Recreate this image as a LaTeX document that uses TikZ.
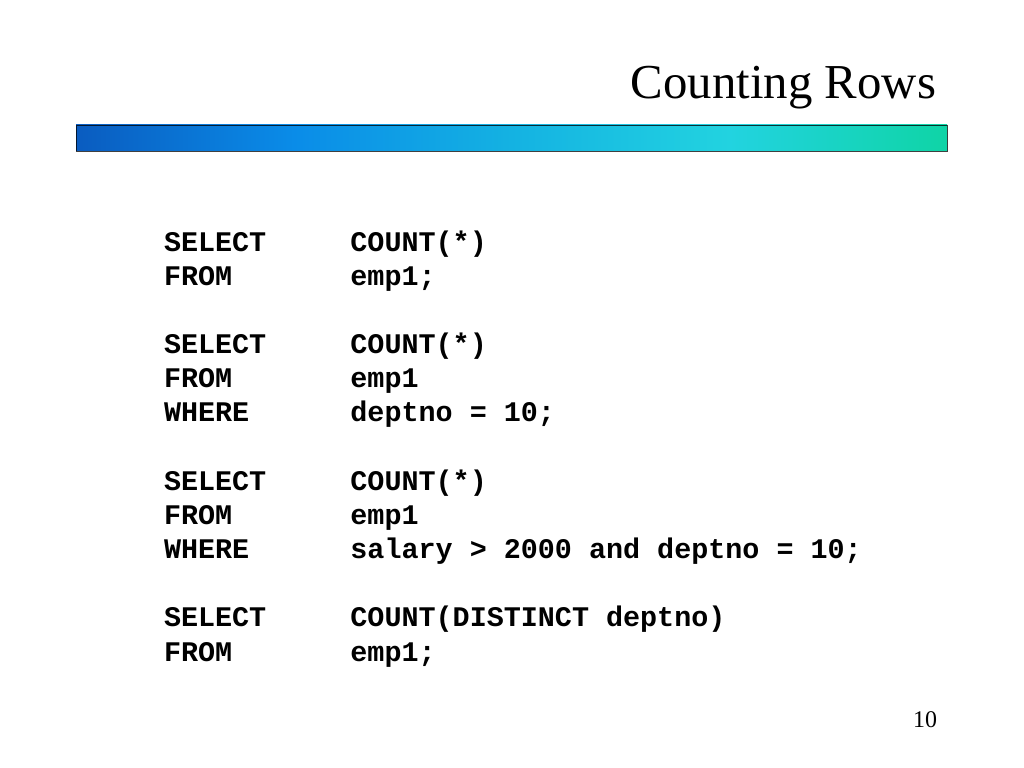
\documentclass[tikz,border=0pt]{standalone}
\usepackage{fontspec}
\setmainfont{Liberation Serif}
\newfontfamily\codefont{Liberation Mono}
\usetikzlibrary{positioning}

\definecolor{barA}{HTML}{0A5CC0}
\definecolor{barB}{HTML}{0A8CE8}
\definecolor{barC}{HTML}{14B2E2}
\definecolor{barD}{HTML}{22D3E0}
\definecolor{barE}{HTML}{0FD4A6}
\pgfdeclarehorizontalshading{barshade}{100bp}{color(0bp)=(barA); color(25bp)=(barA); color(37.5bp)=(barB); color(50bp)=(barC); color(62.5bp)=(barD); color(75bp)=(barE); color(100bp)=(barE)}

\begin{document}
\begin{tikzpicture}[
		x=0.025cm, y=-0.025cm,
		every node/.style={inner sep=0pt, outer sep=0pt},
		title/.style={font=\fontsize{34.7pt}{40pt}\selectfont, anchor=base east},
		code/.style={font=\codefont\bfseries\fontsize{20.2pt}{24pt}\selectfont, anchor=base west},
		pagenum/.style={font=\fontsize{17pt}{20pt}\selectfont, anchor=base east}
		]
		
		% Page
		\fill[white] (0,0) rectangle (1024,768);
		\useasboundingbox (0,0) rectangle (1024,768);
		
		% Heading
		\node[title] (title) at (936,99) {Counting Rows};
		\path[shading=barshade, draw=black, draw opacity=0.75, line width=0.6pt] (76,125) rectangle (947,151);
		
		% First query
		\node[code] (sel1) at (164,251) {SELECT};
		\node[code] (cnt1) at ([xshift=4.66cm]sel1.base west) {COUNT(*)};
		\node[code] (frm1) at ([yshift=-0.854cm]sel1.base west) {FROM};
		\node[code] (tbl1) at ([xshift=4.66cm]frm1.base west) {emp1;};
		
		% Second query
		\node[code] (sel2) at ([yshift=-1.708cm]frm1.base west) {SELECT};
		\node[code] (cnt2) at ([xshift=4.66cm]sel2.base west) {COUNT(*)};
		\node[code] (frm2) at ([yshift=-0.854cm]sel2.base west) {FROM};
		\node[code] (tbl2) at ([xshift=4.66cm]frm2.base west) {emp1};
		\node[code] (whr2) at ([yshift=-0.854cm]frm2.base west) {WHERE};
		\node[code] (cnd2) at ([xshift=4.66cm]whr2.base west) {deptno = 10;};
		
		% Third query
		\node[code] (sel3) at ([yshift=-1.708cm]whr2.base west) {SELECT};
		\node[code] (cnt3) at ([xshift=4.66cm]sel3.base west) {COUNT(*)};
		\node[code] (frm3) at ([yshift=-0.854cm]sel3.base west) {FROM};
		\node[code] (tbl3) at ([xshift=4.66cm]frm3.base west) {emp1};
		\node[code] (whr3) at ([yshift=-0.854cm]frm3.base west) {WHERE};
		\node[code] (cnd3) at ([xshift=4.66cm]whr3.base west) {salary > 2000 and deptno = 10;};
		
		% Fourth query
		\node[code] (sel4) at ([yshift=-1.708cm]whr3.base west) {SELECT};
		\node[code] (cnt4) at ([xshift=4.66cm]sel4.base west) {COUNT(DISTINCT deptno)};
		\node[code] (frm4) at ([yshift=-0.854cm]sel4.base west) {FROM};
		\node[code] (tbl4) at ([xshift=4.66cm]frm4.base west) {emp1;};
		
		% Slide number
		\node[pagenum] (page) at (937,727) {10};
		
	\end{tikzpicture}
\end{document}
